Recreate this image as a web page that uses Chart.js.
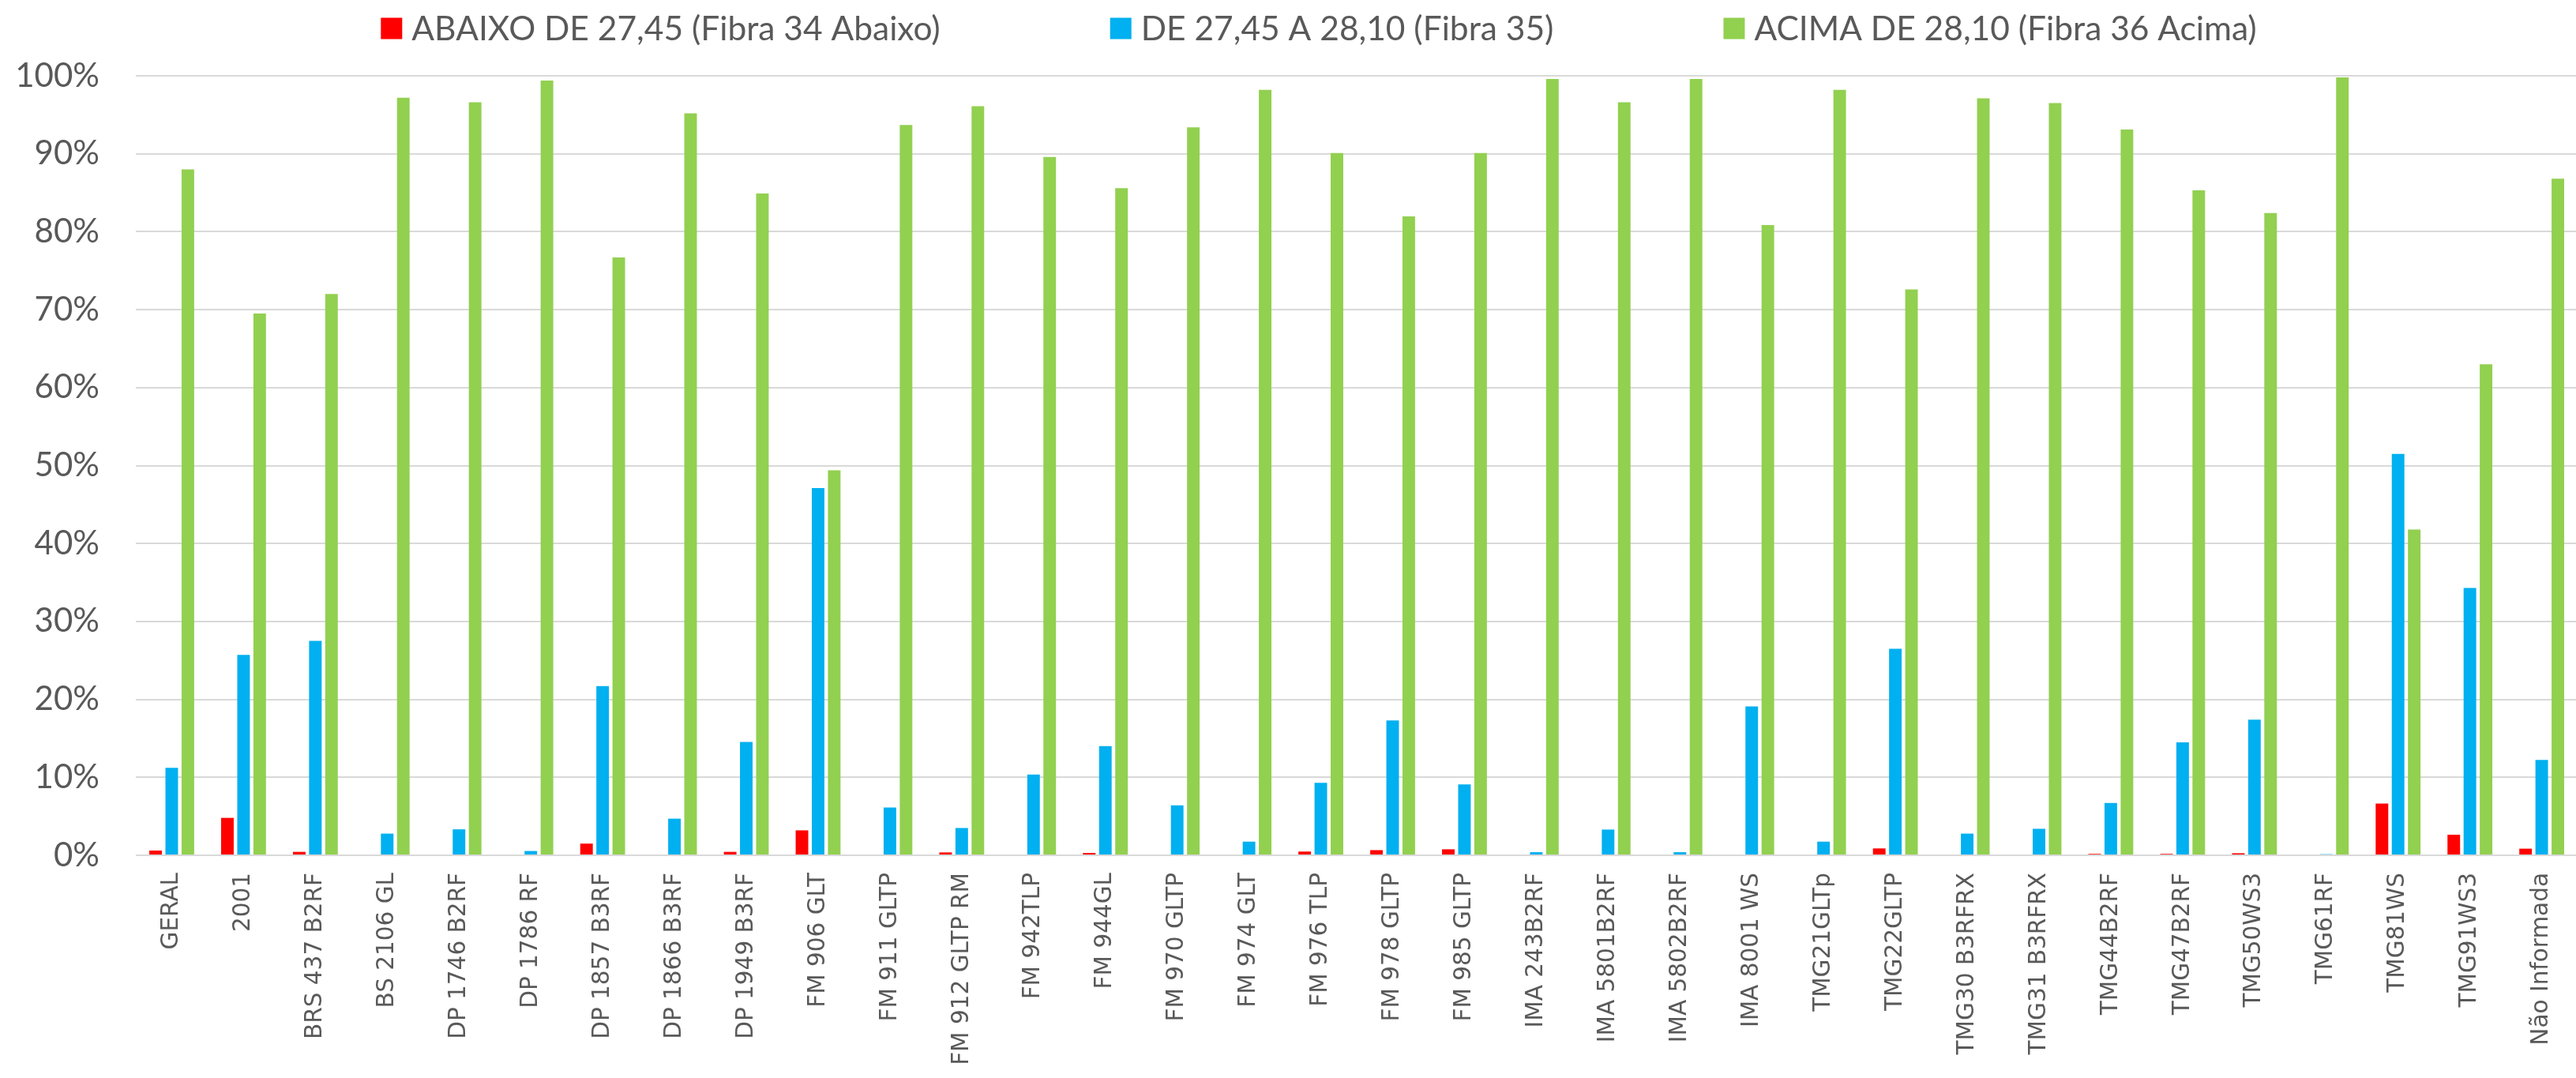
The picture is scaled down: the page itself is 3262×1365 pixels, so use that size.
<!DOCTYPE html>
<html>
<head>
<meta charset="utf-8">
<script src="https://cdn.jsdelivr.net/npm/chart.js@4.4.1/dist/chart.umd.min.js"></script>
<style>
html,body{margin:0;padding:0;background:#fff;overflow:hidden;}
#wrap{width:3276px;height:1365px;position:relative;}
</style>
</head>
<body>
<div id="wrap"><canvas id="c"></canvas></div>
<script>
const categories = ["GERAL","2001","BRS 437 B2RF","BS 2106 GL","DP 1746 B2RF","DP 1786 RF","DP 1857 B3RF","DP 1866 B3RF","DP 1949 B3RF","FM 906 GLT","FM 911 GLTP","FM 912 GLTP RM","FM 942TLP","FM 944GL","FM 970 GLTP","FM 974 GLT","FM 976 TLP","FM 978 GLTP","FM 985 GLTP","IMA 243B2RF","IMA 5801B2RF","IMA 5802B2RF","IMA 8001 WS","TMG21GLTp","TMG22GLTP","TMG30 B3RFRX","TMG31 B3RFRX","TMG44B2RF","TMG47B2RF","TMG50WS3","TMG61RF","TMG81WS","TMG91WS3","Não Informada"];

const seriesNames = ["ABAIXO DE 27,45 (Fibra 34 Abaixo)","DE 27,45 A 28,10 (Fibra 35)","ACIMA DE 28,10 (Fibra 36 Acima)"];

const abaixo = [0.61,4.8,0.44,0,0,0,1.5,0,0.44,3.2,0,0.37,0,0.3,0,0,0.48,0.66,0.77,0,0,0,0,0,0.88,0,0,0.18,0.18,0.26,0,6.63,2.64,0.85];
const faixa  = [11.22,25.7,27.5,2.78,3.33,0.55,21.7,4.7,14.55,47.1,6.14,3.5,10.35,14.0,6.4,1.75,9.3,17.3,9.1,0.4,3.3,0.4,19.1,1.75,26.5,2.78,3.4,6.7,14.5,17.4,0.14,51.5,34.3,12.23];
const acima  = [88.0,69.5,72.0,97.2,96.6,99.4,76.7,95.2,84.9,49.4,93.7,96.1,89.6,85.6,93.4,98.2,90.1,81.96,90.1,99.6,96.6,99.6,80.85,98.2,72.6,97.1,96.5,93.1,85.3,82.4,99.8,41.8,63.0,86.8];

const yTicks = [0,10,20,30,40,50,60,70,80,90,100];
const colors = ["#FF0000","#00B0F0","#92D050"];
const TEXT = "#595959";

const legendPlugin = {
  id: "customLegend",
  afterDraw(chart) {
    const ctx = chart.ctx;
    ctx.save();
    ctx.font = "42.5px Lato";
    ctx.textBaseline = "middle";
    ctx.textAlign = "left";
    const box = 27, gap = 12, itemGap = 215, cy = 36, centerX = 1670;
    const items = chart.data.datasets.map(d => ({label: d.label, color: d.backgroundColor, w: ctx.measureText(d.label).width}));
    let total = items.reduce((s, it) => s + box + gap + it.w, 0) + itemGap * (items.length - 1);
    let x = centerX - total / 2;
    items.forEach(it => {
      ctx.fillStyle = it.color;
      ctx.fillRect(x, cy - box / 2, box, box);
      ctx.fillStyle = TEXT;
      ctx.fillText(it.label, x + box + gap, cy + 1);
      x += box + gap + it.w + itemGap;
    });
    ctx.restore();
  }
};

const ds = (label, data, color) => ({
  label, data, backgroundColor: color, borderWidth: 0,
  categoryPercentage: 0.674, barPercentage: 0.78
});

new Chart(document.getElementById("c"), {
  type: "bar",
  data: {
    labels: categories,
    datasets: [ds(seriesNames[0], abaixo, colors[0]), ds(seriesNames[1], faixa, colors[1]), ds(seriesNames[2], acima, colors[2])]
  },
  options: {
    responsive: true,
    maintainAspectRatio: false,
    animation: false,
    layout: {padding: {top: 96, left: 0, right: 0, bottom: 0}},
    plugins: {legend: {display: false}, tooltip: {enabled: false}},
    scales: {
      x: {
        grid: {display: false, drawTicks: false},
        border: {display: false},
        ticks: {
          color: TEXT, font: {family: "DejaVu Sans", size: 29.5},
          minRotation: 90, maxRotation: 90, padding: 22, autoSkip: false
        },
        afterFit(scale) { scale.height = 1365 - 1083; }
      },
      y: {
        min: 0, max: 100,
        afterBuildTicks(scale) { scale.ticks = yTicks.map(v => ({value: v})); },
        grid: {color: "#D9D9D9", lineWidth: 2, drawTicks: false},
        border: {display: false},
        ticks: {
          color: TEXT, font: {family: "Lato", size: 42}, padding: 46,
          callback: v => v + "%"
        },
        afterFit(scale) { scale.width = 172; }
      }
    }
  },
  plugins: [legendPlugin]
});
</script>
</body>
</html>
